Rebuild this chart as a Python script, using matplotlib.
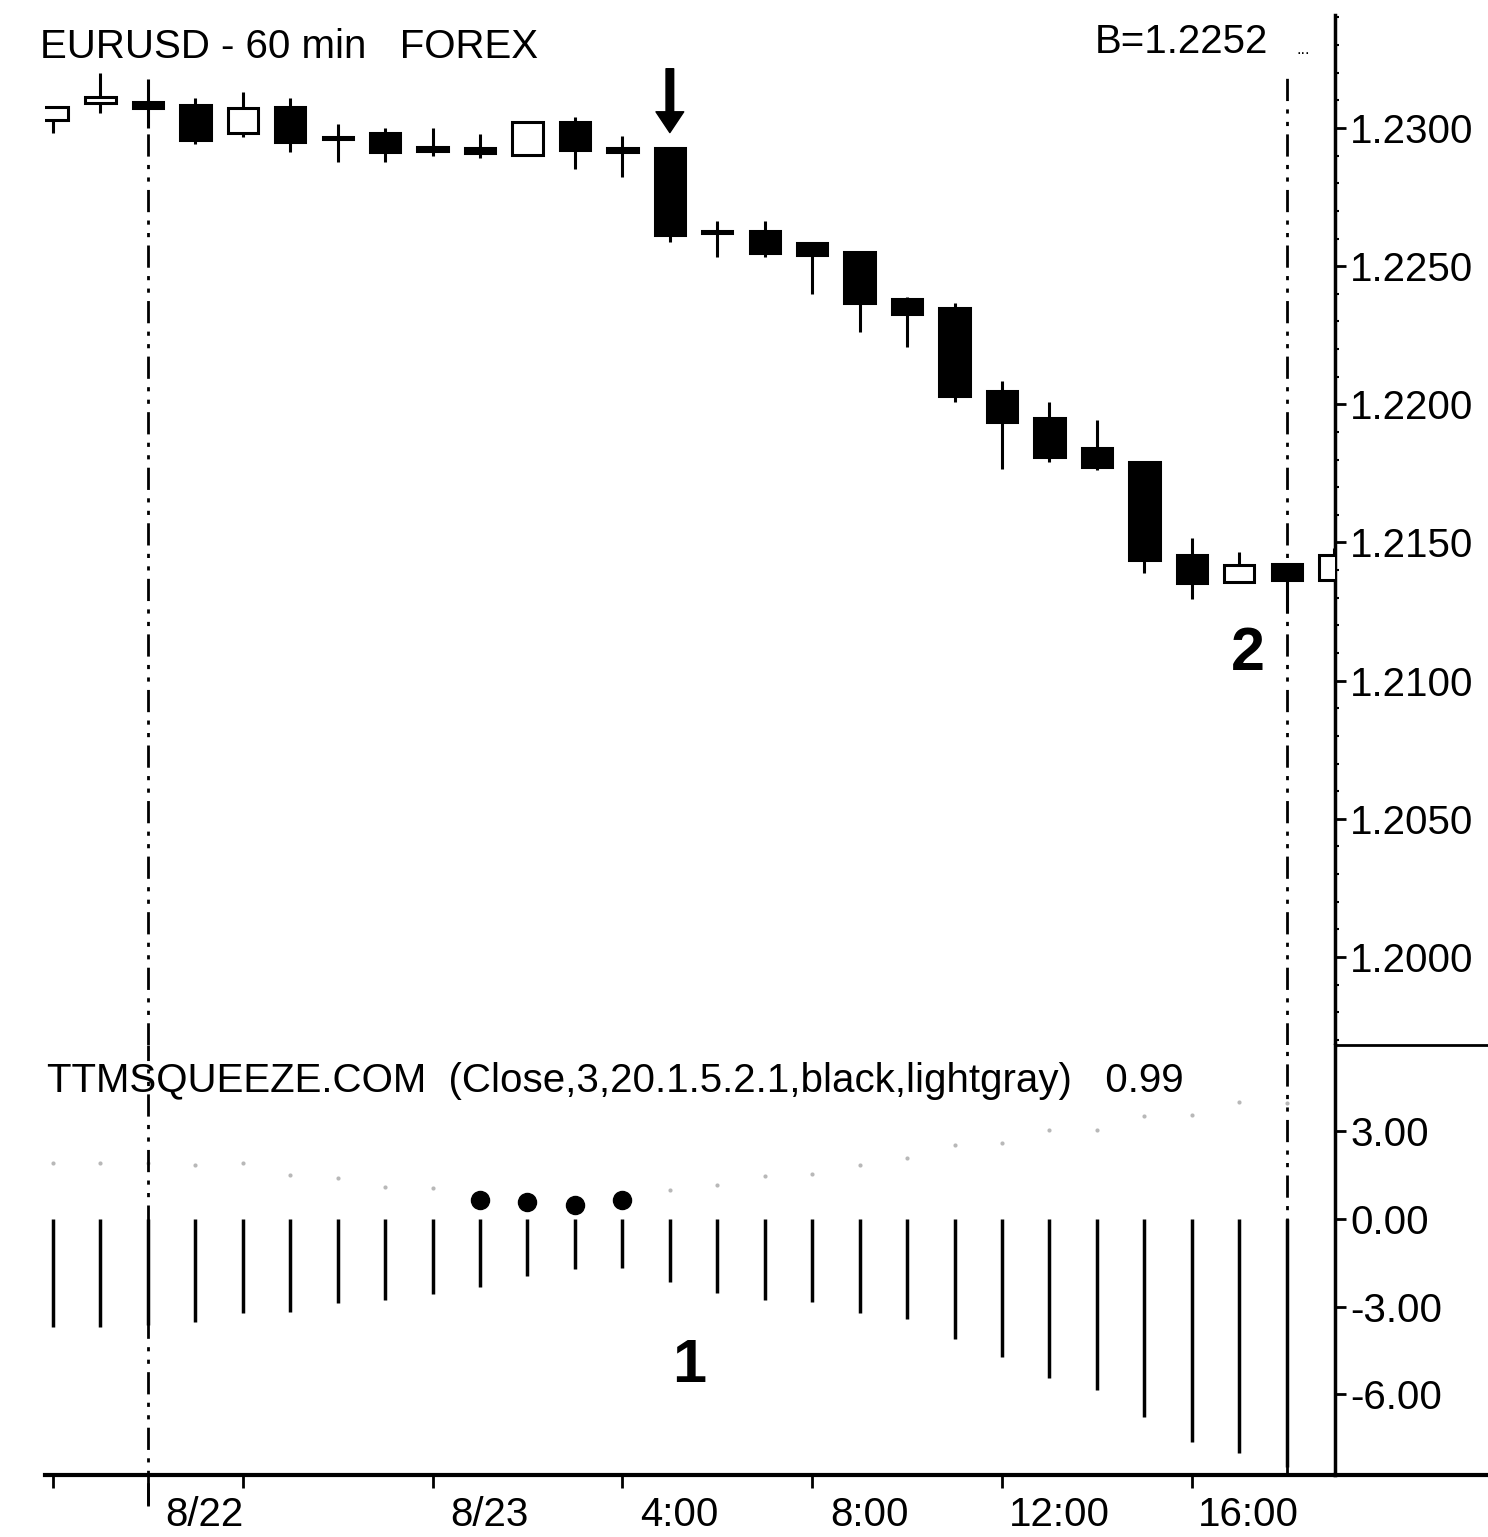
import matplotlib
matplotlib.use("Agg")
import matplotlib.pyplot as plt
from matplotlib.lines import Line2D
from matplotlib.ticker import MultipleLocator, FormatStrFormatter
from matplotlib.transforms import offset_copy

plt.rcParams['font.family'] = ['Liberation Sans', 'DejaVu Sans']
plt.rcParams['axes.unicode_minus'] = False

# EURUSD 60 min bars
opens = [1.23029, 1.23090, 1.23094, 1.23083, 1.22982, 1.23076, 1.22967, 1.22982,
         1.22931, 1.22928, 1.22902, 1.23022, 1.22928, 1.22928, 1.22627, 1.22627,
         1.22584, 1.22551, 1.22381, 1.22349, 1.22048, 1.21950, 1.21842, 1.21791,
         1.21455, 1.21357, 1.21422, 1.21364]
highs = [1.23076, 1.23199, 1.23177, 1.23109, 1.23130, 1.23109, 1.23014, 1.23000,
         1.23000, 1.22978, 1.23022, 1.23040, 1.22971, 1.22928, 1.22663, 1.22663,
         1.22584, 1.22551, 1.22388, 1.22367, 1.22084, 1.22008, 1.21943, 1.21791,
         1.21516, 1.21466, 1.21422, 1.21480]
lows = [1.22982, 1.23054, 1.23000, 1.22942, 1.22967, 1.22913, 1.22877, 1.22877,
        1.22899, 1.22891, 1.22902, 1.22852, 1.22823, 1.22587, 1.22533, 1.22533,
        1.22399, 1.22262, 1.22207, 1.22008, 1.21766, 1.21791, 1.21762, 1.21390,
        1.21295, 1.21357, 1.21245, 1.21364]
closes = [1.23076, 1.23112, 1.23072, 1.22957, 1.23072, 1.22949, 1.22960, 1.22913,
          1.22917, 1.22910, 1.23022, 1.22920, 1.22913, 1.22613, 1.22620, 1.22548,
          1.22540, 1.22367, 1.22327, 1.22030, 1.21936, 1.21809, 1.21773, 1.21437,
          1.21353, 1.21418, 1.21364, 1.21455]

# TTM squeeze histogram and dots
momentum = [-3.70, -3.70, -3.63, -3.53, -3.22, -3.18, -2.88, -2.77, -2.57, -2.33,
            -1.95, -1.71, -1.68, -2.16, -2.53, -2.77, -2.84, -3.22, -3.42, -4.11,
            -4.73, -5.45, -5.86, -6.78, -7.64, -8.01, -8.49]
dots = [1.92, 1.92, 1.92, 1.85, 1.92, 1.51, 1.40, 1.10, 1.06, 0.65, 0.58, 0.48,
        0.65, 0.99, 1.16, 1.47, 1.54, 1.85, 2.09, 2.53, 2.60, 3.05, 3.05, 3.53,
        3.56, 4.01, 3.97]
squeeze_bars = [9, 10, 11, 12]

price_ticks = [1.2000, 1.2050, 1.2100, 1.2150, 1.2200, 1.2250, 1.2300]
osc_ticks = [3, 0, -3, -6]
time_ticks = [0, 4, 8, 12, 16, 20, 24]
label_ticks = [2, 8, 12, 16, 20, 24]
time_labels = ['8/22', '8/23', '4:00', '8:00', '12:00', '16:00']
marker_bars = [2, 26]

W, H = 1488, 1537
FS = 29


def box(l, t, r, b):
    return [l / W, 1 - b / H, (r - l) / W, (b - t) / H]


fig = plt.figure(figsize=(W / 100, H / 100), dpi=100)
ax1 = fig.add_axes(box(45, 15, 1335, 1045))
ax2 = fig.add_axes(box(45, 1045, 1335, 1475))

xlim = (-0.1686, 27.018)

# candles
x = list(range(len(opens)))
up = [c >= o for o, c in zip(opens, closes)]
ax1.vlines(x, lows, highs, color='black', lw=2.2, zorder=2)
bottoms = [min(o, c) for o, c in zip(opens, closes)]
heights = [max(abs(c - o), 0.00003) for o, c in zip(opens, closes)]
ax1.bar(x, heights, bottom=bottoms, width=0.64,
        color=['white' if u else 'black' for u in up],
        edgecolor='black', lw=2.2, zorder=3)

ax1.set_xlim(*xlim)
ax1.set_ylim(1.196815, 1.234089)

# arrow over the breakdown bar
tip = offset_copy(ax1.transData, fig=fig, y=11, units='points')
ax1.annotate('', xy=(13, highs[13]), xycoords=tip, xytext=(0, 46),
             textcoords='offset points',
             arrowprops=dict(facecolor='black', edgecolor='black', width=5.5,
                             headwidth=20, headlength=15, shrink=0))
ax1.annotate('2', xy=(26, lows[26]), xytext=(-28, -30), textcoords='offset points',
             ha='center', va='center', fontsize=44, fontweight='bold')

# oscillator
ax2.vlines(x[:len(momentum)], 0, momentum, color='black', lw=2.5)
gray = [i for i in range(len(dots)) if i not in squeeze_bars]
ax2.plot(gray, [dots[i] for i in gray], 'o', color='0.72', ms=3, mec='none')
ax2.plot(squeeze_bars, [dots[i] for i in squeeze_bars], 'o', color='black', ms=13)
ax2.annotate('1', xy=(13, momentum[13]), xytext=(14, -61), textcoords='offset points',
             ha='center', va='center', fontsize=44, fontweight='bold')
ax2.set_xlim(*xlim)
ax2.set_ylim(-8.767, 5.959)

# dash-dot-dot separators across both panels
dash = (0, (8, 3, 1.5, 3, 1.5, 3))
ax1.axvline(marker_bars[0], ymin=0, ymax=0.937, color='black', lw=2, ls=dash)
ax2.axvline(marker_bars[0], ymin=-0.07, ymax=1, color='black', lw=2, ls=dash,
            clip_on=False)
ax1.axvline(marker_bars[1], ymin=0, ymax=0.947, color='black', lw=2, ls=dash)
ax2.axvline(marker_bars[1], ymin=0, ymax=1, color='black', lw=2, ls=dash)

# spines and ticks
for ax in (ax1, ax2):
    ax.spines['left'].set_visible(False)
    ax.spines['top'].set_visible(False)
    ax.spines['right'].set_linewidth(2.5)
    ax.yaxis.tick_right()
    ax.tick_params(axis='y', direction='out', length=8, width=2, pad=3, labelsize=FS)
ax1.spines['bottom'].set_visible(False)
ax2.spines['bottom'].set_linewidth(3)

ax1.set_yticks(price_ticks)
ax1.yaxis.set_major_formatter(FormatStrFormatter('%.4f'))
ax1.yaxis.set_minor_locator(MultipleLocator(0.001))
ax1.tick_params(axis='y', which='minor', length=3, width=1.5)
ax1.tick_params(axis='x', bottom=False, labelbottom=False)

ax2.set_yticks(osc_ticks)
ax2.yaxis.set_major_formatter(FormatStrFormatter('%.2f'))
ax2.set_xticks(time_ticks)
ax2.set_xticks([marker_bars[0]], minor=True)
ax2.tick_params(axis='x', which='major', direction='out', length=9, width=2,
                labelbottom=False)
ax2.tick_params(axis='x', which='minor', direction='out', length=22, width=2)
for pos, lab in zip(label_ticks, time_labels):
    ax2.annotate(lab, xy=(pos, 0), xycoords=('data', 'axes fraction'),
                 xytext=(41, -15), textcoords='offset points',
                 ha='center', va='top', fontsize=FS)

# right-hand frame lines
fig.add_artist(Line2D([1335 / W, 1], [1 - 1045 / H] * 2, color='black', lw=2))
fig.add_artist(Line2D([1335 / W, 1], [1 - 1475 / H] * 2, color='black', lw=3))

# headers
fig.text(40 / W, 1 - 47 / H, 'EURUSD - 60 min   FOREX', fontsize=FS, va='center')
fig.text(1268 / W, 1 - 42 / H, 'B=1.2252', fontsize=FS, ha='right', va='center')
fig.text(1296 / W, 1 - 50 / H, '...', fontsize=12, va='center')
fig.text(47 / W, 1 - 1081 / H,
         'TTMSQUEEZE.COM  (Close,3,20.1.5.2.1,black,lightgray)   0.99',
         fontsize=FS, va='center')

fig.savefig('out.png', dpi=100, facecolor='white')
